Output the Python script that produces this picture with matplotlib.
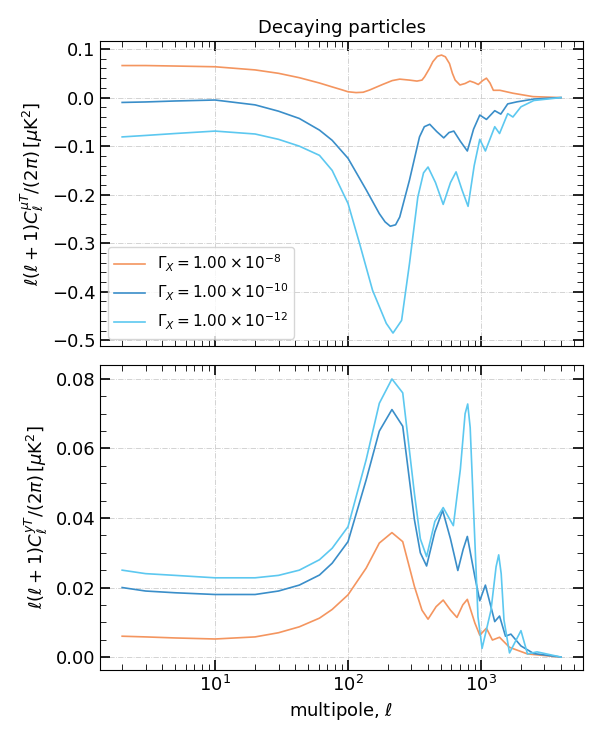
import numpy as np
import matplotlib
matplotlib.use('Agg')
import matplotlib.pyplot as plt
from matplotlib.ticker import MultipleLocator

# read-off values, top panel (mu T)
ell_mu_8 = [2, 3, 5, 10, 20, 30, 43, 61, 76, 90, 100, 115, 130, 145, 182, 215, 245, 290, 330, 360, 377, 410, 435,
            470, 505, 540, 580, 610, 640, 695, 760, 826, 890, 955, 1030, 1100, 1170, 1240, 1390, 1740, 2460, 4000]
mu_8 = [0.066, 0.066, 0.065, 0.0635, 0.057, 0.050, 0.041, 0.030, 0.022, 0.016, 0.012, 0.0103, 0.011, 0.0155,
        0.027, 0.035, 0.038, 0.036, 0.034, 0.036, 0.043, 0.060, 0.074, 0.085, 0.0876, 0.084, 0.070, 0.050, 0.036,
        0.026, 0.029, 0.034, 0.031, 0.027, 0.035, 0.04, 0.03, 0.015, 0.015, 0.009, 0.002, 0.0]

ell_mu_10 = [2, 3, 5, 10, 20, 30, 43, 61, 76, 100, 137, 172, 190, 208, 228, 245, 290, 345, 375, 412, 465, 525, 575,
             625, 700, 790, 880, 980, 1100, 1270, 1410, 1590, 1870, 2500, 4000]
mu_10 = [-0.010, -0.009, -0.007, -0.005, -0.015, -0.028, -0.043, -0.067, -0.088, -0.125, -0.19, -0.239, -0.256,
         -0.265, -0.262, -0.246, -0.17, -0.081, -0.06, -0.055, -0.07, -0.083, -0.072, -0.069, -0.09, -0.110,
         -0.065, -0.036, -0.045, -0.027, -0.034, -0.013, -0.0087, -0.003, 0.0]

ell_mu_12 = [2, 3, 5, 10, 20, 30, 43, 61, 76, 100, 122, 153, 194, 218, 253, 290, 335, 370, 400, 455, 520, 590, 650,
             720, 800, 890, 980, 1080, 1270, 1380, 1590, 1740, 2000, 2500, 4000]
mu_12 = [-0.081, -0.078, -0.074, -0.069, -0.075, -0.086, -0.10, -0.119, -0.15, -0.218, -0.30, -0.397, -0.465,
         -0.485, -0.459, -0.342, -0.205, -0.155, -0.143, -0.175, -0.22, -0.175, -0.153, -0.19, -0.224, -0.14,
         -0.086, -0.11, -0.060, -0.074, -0.033, -0.04, -0.019, -0.006, 0.0]

# bottom panel (y T)
ell_y_8 = [2, 3, 5, 10, 20, 30, 43, 61, 76, 100, 137, 172, 214, 258, 316, 360, 400, 460, 520, 590, 660, 730, 790,
           900, 980, 1100, 1220, 1380, 1640, 2240, 4000]
y_8 = [0.006, 0.0058, 0.0055, 0.0052, 0.0058, 0.007, 0.0087, 0.0112, 0.0137, 0.0179, 0.0256, 0.0328, 0.0358,
       0.0332, 0.0203, 0.0135, 0.0109, 0.0145, 0.0164, 0.0135, 0.0114, 0.0150, 0.0166, 0.0098, 0.0063, 0.0083,
       0.0049, 0.0057, 0.0028, 0.0009, 0.0]

ell_y_10 = [2, 3, 5, 10, 20, 30, 43, 61, 76, 100, 137, 172, 214, 258, 316, 350, 390, 450, 515, 590, 670, 735, 790,
            900, 980, 1080, 1270, 1380, 1530, 1680, 2000, 2500, 4000]
y_10 = [0.020, 0.019, 0.0185, 0.018, 0.018, 0.019, 0.0207, 0.0236, 0.027, 0.0332, 0.051, 0.065, 0.0712, 0.0664,
        0.0395, 0.030, 0.0262, 0.036, 0.0422, 0.034, 0.0249, 0.031, 0.0347, 0.0231, 0.0162, 0.0207, 0.0102,
        0.0118, 0.006, 0.0066, 0.0032, 0.001, 0.0]

ell_y_12 = [2, 3, 5, 10, 20, 30, 43, 61, 76, 100, 137, 172, 214, 258, 316, 350, 390, 450, 520, 620, 700, 760, 795,
            830, 880, 950, 1020, 1190, 1300, 1360, 1420, 1490, 1640, 2000, 2240, 2640, 4000]
y_12 = [0.025, 0.024, 0.0235, 0.0228, 0.0228, 0.0235, 0.025, 0.028, 0.0313, 0.0375, 0.0568, 0.073, 0.080, 0.076,
        0.047, 0.034, 0.0289, 0.039, 0.043, 0.0378, 0.054, 0.070, 0.0728, 0.066, 0.0424, 0.0116, 0.0025, 0.0135,
        0.026, 0.0294, 0.024, 0.0107, 0.0012, 0.0076, 0.0009, 0.0015, 0.0]

labels = [r'$\Gamma_X = 1.00\times10^{-8}$', r'$\Gamma_X = 1.00\times10^{-10}$', r'$\Gamma_X = 1.00\times10^{-12}$']
colors = ['#f4955f', '#3a8ec9', '#5cc8f0']

fig, (ax1, ax2) = plt.subplots(2, 1, figsize=(5.93, 7.37), dpi=100, sharex=True)
fig.subplots_adjust(left=0.169, right=0.983, top=0.944, bottom=0.091, hspace=0.062)

ax1.plot(ell_mu_8, mu_8, color=colors[0], lw=1.2, label=labels[0])
ax1.plot(ell_mu_10, mu_10, color=colors[1], lw=1.2, label=labels[1])
ax1.plot(ell_mu_12, mu_12, color=colors[2], lw=1.2, label=labels[2])
ax2.plot(ell_y_8, y_8, color=colors[0], lw=1.2)
ax2.plot(ell_y_10, y_10, color=colors[1], lw=1.2)
ax2.plot(ell_y_12, y_12, color=colors[2], lw=1.2)

for ax in (ax1, ax2):
    ax.set_xscale('log')
    ax.grid(True, ls='-.', lw=0.6, color='#cccccc')
    ax.tick_params(which='both', direction='in', top=True, right=True, labelsize=13)
    ax.tick_params(which='major', length=7, width=1.2)
    ax.tick_params(which='minor', length=4)

ax1.yaxis.set_major_locator(MultipleLocator(0.1))
ax1.yaxis.set_minor_locator(MultipleLocator(0.02))
ax2.yaxis.set_major_locator(MultipleLocator(0.02))
ax2.yaxis.set_minor_locator(MultipleLocator(0.005))
ax1.set_ylim(-0.512, 0.116)
ax2.set_ylim(-0.0037, 0.084)
ax1.set_title('Decaying particles', fontsize=13)
ax1.set_ylabel(r'$\ell(\ell+1)C_\ell^{\mu T}/(2\pi)\,[\mu{\rm K}^2]$', fontsize=13)
ax2.set_ylabel(r'$\ell(\ell+1)C_\ell^{yT}/(2\pi)\,[\mu{\rm K}^2]$', fontsize=13)
ax2.set_xlabel(r'multipole, $\ell$', fontsize=13)
ax1.legend(loc='lower left', fontsize=11)

fig.savefig('out.png')
